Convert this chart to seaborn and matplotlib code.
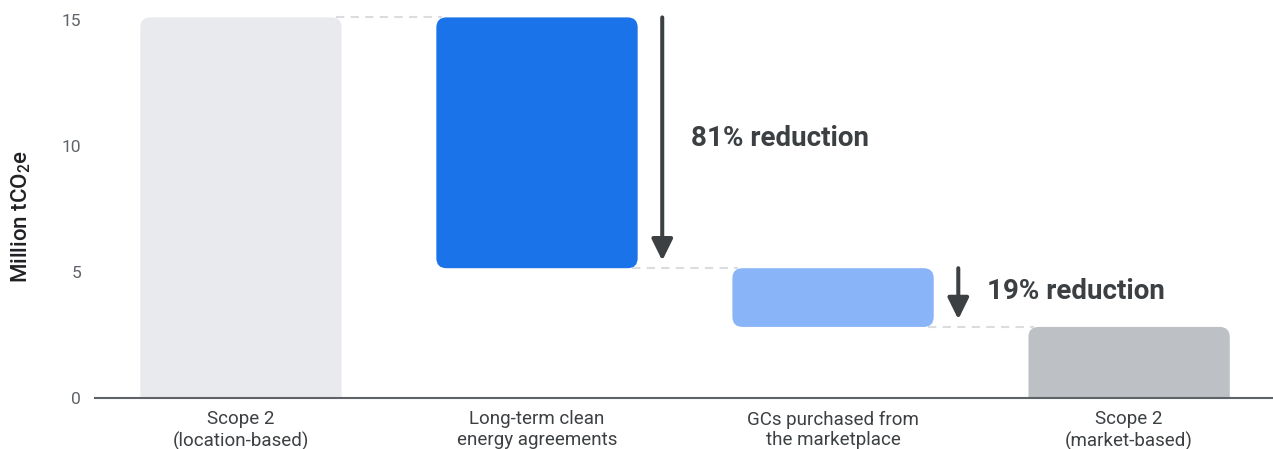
import numpy as np
import pandas as pd
import seaborn as sns
import matplotlib
matplotlib.use("Agg")
import matplotlib.pyplot as plt
from matplotlib.patches import FancyBboxPatch

# Scope 2 waterfall (million tCO2e)
categories = [
    "Scope 2\n(location-based)",
    "Long-term clean\nenergy agreements",
    "GCs purchased from\nthe marketplace",
    "Scope 2\n(market-based)",
]
start_total = 15.1
reductions = [9.95, 2.33]
end_total = 2.82
bar_colors = ["#e8eaed", "#1a73e8", "#8ab4f8", "#bdc1c6"]
y_ticks = [0, 5, 10, 15]

sns.set_theme(style="white")
plt.rcParams["font.family"] = ["Roboto", "DejaVu Sans"]
plt.rcParams["mathtext.fontset"] = "custom"
plt.rcParams["mathtext.rm"] = "Roboto"

# waterfall geometry: top and bottom of every floating bar
levels = [start_total]
for r in reductions:
    levels.append(levels[-1] - r)
tops = [start_total] + levels[:-1] + [end_total]
bottoms = [0.0] + levels[1:] + [0.0]
total_drop = sum(reductions)

df = pd.DataFrame({"category": categories, "top": tops})

fig = plt.figure(figsize=(12.73, 4.49), dpi=100)
ax = fig.add_axes([95 / 1273, 51 / 449, 1 - 95 / 1273, 398 / 449])

sns.barplot(data=df, x="category", y="top", hue="category",
            palette=bar_colors, width=0.68, legend=False, ax=ax,
            saturation=1)

ax.set_xlim(-0.493, 3.486)
ax.set_ylim(0, 15.79)

# rounded, floating versions of the seaborn bars
rx = 0.034
aspect = 0.4 / rx
bars = list(ax.patches)
for patch, bottom, top, color in zip(bars, bottoms, tops, bar_colors):
    x0 = patch.get_x()
    w = patch.get_width()
    b = bottom if bottom > 0 else -0.6
    fb = FancyBboxPatch((x0, b), w, top - b,
                        boxstyle=f"round,pad=0,rounding_size={rx}",
                        mutation_aspect=aspect, facecolor=color,
                        edgecolor="none", zorder=2)
    ax.add_patch(fb)
    patch.remove()

# dashed connectors between consecutive bars
geo = [(p.get_x(), p.get_width()) for p in bars]
connect_levels = [tops[0], bottoms[1], bottoms[2]]
for i, lvl in enumerate(connect_levels):
    xa = geo[i][0] + geo[i][1] - 0.02
    xb = geo[i + 1][0] + 0.02
    ax.plot([xa, xb], [lvl, lvl], color="#dadce0", lw=1.5,
            ls=(0, (4, 3)), zorder=1)

# reduction arrows and labels
arrow_color = "#3c4043"
for k, r in enumerate(reductions):
    i = k + 1
    x_arrow = geo[i][0] + geo[i][1] + 0.083
    y_top = tops[i]
    y_tip = bottoms[i] + 0.3
    ax.annotate("", xy=(x_arrow, y_tip), xytext=(x_arrow, y_top),
                arrowprops=dict(arrowstyle="-|>,head_length=0.65,head_width=0.32",
                                color=arrow_color, lw=2.9, mutation_scale=20,
                                shrinkA=0, shrinkB=0),
                zorder=3)
    pct = round(r / total_drop * 100)
    y_text = [10.3, 4.22][k]
    ax.text(x_arrow + 0.097, y_text, f"{pct}% reduction", fontsize=20,
            fontweight="bold", color=arrow_color, va="center", ha="left")

# axes styling
for side in ["top", "right", "left"]:
    ax.spines[side].set_visible(False)
ax.spines["bottom"].set_color("#5f6368")
ax.spines["bottom"].set_linewidth(1.5)
ax.spines["bottom"].set_zorder(4)

ax.set_yticks(y_ticks)
ax.set_yticklabels([str(t) for t in y_ticks])
ax.tick_params(axis="y", length=0, pad=10, labelsize=12.5, labelcolor="#5f6368")
ax.tick_params(axis="x", length=0, pad=9, labelsize=13.5, labelcolor="#3c4043")
ax.set_xlabel("")
ax.set_ylabel(r"Million tCO$_\mathregular{2}$e", fontsize=16,
              fontweight="medium", color="#202124")
ax.yaxis.set_label_coords(-0.053, 0.457)
ax.grid(False)

fig.savefig("out.png", dpi=100)
